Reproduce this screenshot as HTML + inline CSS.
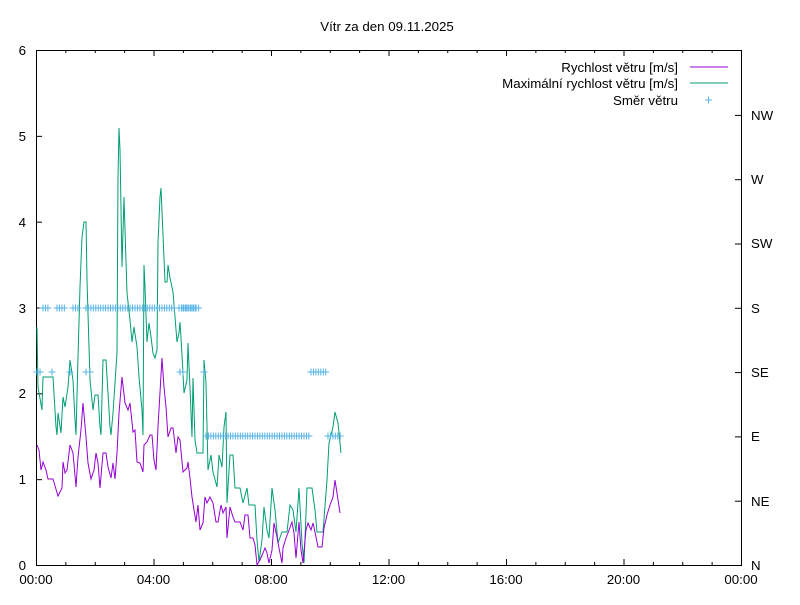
<!DOCTYPE html>
<html><head><meta charset="utf-8"><style>
body{margin:0;background:#fff;}
svg text{font-family:"Liberation Sans",sans-serif;font-size:13.3px;fill:#000;}
</style></head><body>
<svg id="s" width="800" height="600" xmlns="http://www.w3.org/2000/svg">
<rect x="0" y="0" width="800" height="600" fill="#fff"/>
<text x="387" y="31" text-anchor="middle">Vítr za den 09.11.2025</text>
<g id="ax" stroke="#000" stroke-width="1" fill="none">
<rect x="36.5" y="50.5" width="705" height="515"/>
</g>
<g text-anchor="end">
<text x="26" y="570">0</text><text x="26" y="484">1</text><text x="26" y="398">2</text>
<text x="26" y="313">3</text><text x="26" y="227">4</text><text x="26" y="141">5</text><text x="26" y="55">6</text>
</g>
<g>
<text x="751" y="570">N</text><text x="751" y="506">NE</text><text x="751" y="441">E</text>
<text x="751" y="377">SE</text><text x="751" y="313">S</text><text x="751" y="248">SW</text>
<text x="751" y="184">W</text><text x="751" y="120">NW</text>
</g>
<g text-anchor="middle">
<text x="36" y="584">00:00</text><text x="153.5" y="584">04:00</text><text x="271" y="584">08:00</text>
<text x="388.5" y="584">12:00</text><text x="506" y="584">16:00</text><text x="623.5" y="584">20:00</text><text x="741" y="584">00:00</text>
</g>
<g text-anchor="end">
<text x="678" y="72">Rychlost větru [m/s]</text>
<text x="678" y="88">Maximální rychlost větru [m/s]</text>
<text x="678" y="105">Směr větru</text>
</g>
<line x1="690" y1="67" x2="728" y2="67" stroke="#9400d3"/>
<line x1="690" y1="83" x2="728" y2="83" stroke="#009e73"/>
<g stroke="#56b4e9"><line x1="705" y1="100" x2="712" y2="100"/><line x1="708.5" y1="96.5" x2="708.5" y2="103.5"/></g>
<polyline fill="none" stroke="#009e73" stroke-width="1" points="36,328 37,328 38,387 42,410 43,377 53,377 56,427 57,435 58,413 61,433 63,397 65,407 68,387 70,360 73,380 75,420 76,435 78,357 80,287 82,237 84,222 86,222 87,280 90,380 93,410 95,395 98,395 100,427 101,435 103,360 106,360 108,393 110,427 111,435 113,413 117,353 118,177 119,128 120,150 122,267 124,197 127,293 130,320 132,342 134,327 137,347 139,377 142,410 143,435 144,265 145,287 147,342 149,323 151,337 153,353 155,358 157,350 158,243 160,197 161,188 163,235 165,282 167,282 168,265 170,278 173,292 175,317 177,342 179,333 180,322 182,355 184,393 187,380 188,343 190,388 192,437 193,378 195,440 197,453 203,453 204,360 206,383 208,470 211,455 213,472 217,487 219,455 222,467 224,427 226,412 227,503 230,455 233,455 235,488 240,488 243,503 247,488 249,505 255,505 257,540 259,562 262,540 264,507 267,530 269,538 272,488 275,510 278,543 282,532 287,532 290,505 293,510 296,532 299,488 302,543 304,563 307,488 312,488 315,510 317,532 323,532 327,480 329,443 333,427 335,412 338,423 341,453"/>
<polyline fill="none" stroke="#9400d3" stroke-width="1" points="37,445 39,450 41,470 43,462 46,470 48,479 53,479 58,496 62,488 63,462 65,473 67,470 70,445 73,453 76,487 78,457 81,430 83,403 86,437 88,463 91,479 94,470 96,453 98,463 100,488 103,453 106,453 108,467 111,478 113,463 115,479 117,453 119,413 122,377 125,403 128,410 130,403 133,432 135,430 137,462 140,463 143,472 144,445 147,442 150,435 152,435 154,460 156,470 158,427 162,358 164,387 166,407 168,437 171,428 173,428 176,453 178,437 180,440 183,472 187,468 188,462 190,478 192,497 194,510 196,522 198,505 200,530 203,523 205,497 207,503 210,497 213,503 216,522 218,522 221,505 223,513 226,507 227,538 230,507 233,517 235,522 240,522 243,530 245,515 248,515 250,538 253,538 255,545 257,565 260,560 263,553 265,548 267,553 269,563 272,550 274,523 277,537 279,548 282,563 283,548 286,538 288,533 292,522 294,533 296,558 299,522 301,550 303,563 306,530 308,523 311,530 313,523 315,532 318,547 322,547 324,528 327,515 330,505 333,497 335,480 337,493 340,513"/>
<g id="pl" stroke="#56b4e9" stroke-width="1"></g>
</svg>
<script>
var ns="http://www.w3.org/2000/svg",ax=document.getElementById("ax"),pl=document.getElementById("pl");
function L(g,x1,y1,x2,y2){var l=document.createElementNS(ns,"line");l.setAttribute("x1",x1);l.setAttribute("y1",y1);l.setAttribute("x2",x2);l.setAttribute("y2",y2);g.appendChild(l);}
for(var i=0;i<=6;i++){var y=565.5-i*85.83;L(ax,36,y,42,y);}
for(var i=0;i<=7;i++){var y=565.5-i*64.3;L(ax,741,y,735,y);}
for(var h=0;h<=24;h++){var x=36.5+h*29.375,len=(h%4==0)?6:3;L(ax,x,565,x,565-len);L(ax,x,50,x,50+len);}
function P(x,y){L(pl,x-3.5,y,x+3.5,y);L(pl,x,y-3.5,x,y+3.5);}
function R(a,b,y){for(var x=a;x<=b+0.01;x+=2.45)P(x,y);}
R(43,50,308);R(57,66,308);R(73,80,308);R(86,176,308);R(179,201,308);
P(37,372);P(40,372);P(52,372);P(70,372);P(86,372);P(90,372);P(180,372);P(183,372);P(204,372);R(311,327,372);R(183,197,308);
R(206,310,436);R(328,341,436);
</script>
</body></html>
